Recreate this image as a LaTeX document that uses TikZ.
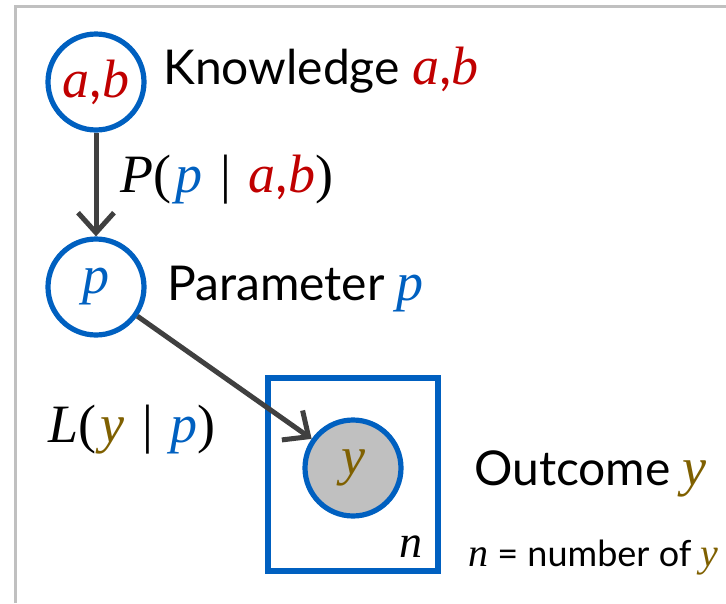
\documentclass[tikz,border=0pt]{standalone}
\usepackage{fontspec}
\setmainfont{Lato}
\newfontfamily\mth{Liberation Serif}
\usetikzlibrary{arrows.meta}
\definecolor{cblue}{HTML}{0060C0}
\definecolor{cred}{HTML}{C00000}
\definecolor{colive}{HTML}{7F6000}
\definecolor{cgray}{HTML}{404040}
\definecolor{cframe}{HTML}{C0C0C0}
\definecolor{cfill}{HTML}{C0C0C0}
\newcommand{\mi}[1]{{\mth\itshape #1}}
\newcommand{\mr}[1]{{\mth #1}}
\newcommand{\mathsz}{\fontsize{54}{60}\selectfont}
\newcommand{\gap}{\hspace{0.33em}}
\tikzset{
  var/.style={circle, draw=cblue, line width=5.2pt, minimum size=96pt, inner sep=0pt, font=\mathsz},
  lbl/.style={anchor=base west, inner sep=0pt, font=\fontsize{48}{54}\selectfont},
  conn/.style={draw=cgray, line width=5pt, -{Straight Barb[length=20pt, width=36pt]}},
}
\begin{document}
\begin{tikzpicture}[x=1pt, y=-1pt]
\useasboundingbox (0,0) rectangle (726,603);
\draw[cframe, line width=3pt] (15.5,603) coordinate (fbl) -- (15.5,6.5) coordinate (ftl) -- (726,6.5) coordinate (ftr);
\node[var] (ab) at (96,82) {\textcolor{cred}{\mi{a},\mi{b}}};
\node[var] (p) at (96,287) {\textcolor{cblue}{\mi{p}}};
\draw[cblue, line width=6pt] (268,378) rectangle (438,571);
\node[var, fill=cfill] (y) at (353,468) {\textcolor{colive}{\mi{y}}};
\draw[conn] (ab) -- (p);
\draw[conn] (p) -- (y);
\node[lbl] (kn) at (163,84) {Knowledge {\mathsz\textcolor{cred}{\mi{a},\mi{b}}}};
\node[lbl] (pa) at (167,300) {Parameter {\mathsz\textcolor{cblue}{\mi{p}}}};
\node[lbl] (oc) at (474,485) {Outcome {\mathsz\textcolor{colive}{\mi{y}}}};
\node[lbl, font=\mathsz] (pl) at (120,192) {\mi{P}\mr{(}\hspace{0.08em}\textcolor{cblue}{\mi{p}}\gap\mr{|}\gap\textcolor{cred}{\mi{a},\mi{b}}\mr{)}};
\node[lbl, font=\mathsz] (ll) at (48,442) {\mi{L}\mr{(}\hspace{0.08em}\textcolor{colive}{\mi{y}}\gap\mr{|}\gap\textcolor{cblue}{\mi{p}}\mr{)}};
\node[lbl, font=\fontsize{46}{52}\selectfont] (nn) at (399,557) {\mi{n}};
\node[lbl, font=\fontsize{36}{42}\selectfont] (nd) at (468,566) {{\fontsize{40}{46}\selectfont\mi{n}} = number of {\fontsize{40}{46}\selectfont\textcolor{colive}{\mi{y}}}};
\end{tikzpicture}
\end{document}
